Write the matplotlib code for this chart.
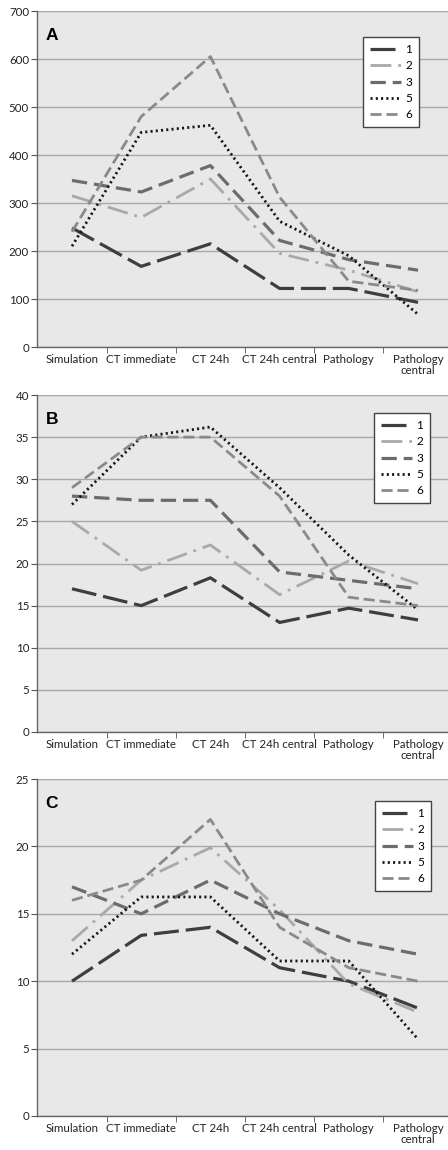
import matplotlib
matplotlib.use("Agg")
import matplotlib.pyplot as plt
from matplotlib.ticker import FixedLocator

plt.rcParams["lines.scale_dashes"] = False
plt.rcParams["font.family"] = ["Lato", "DejaVu Sans"]

CATEGORIES = ["Simulation", "CT immediate", "CT 24h", "CT 24h central",
              "Pathology", "Pathology\ncentral"]
SERIES_NAMES = ["1", "2", "3", "5", "6"]

# panel A
A_S1 = [248, 168, 215, 122, 122, 93]
A_S2 = [315, 270, 350, 195, 160, 115]
A_S3 = [347, 323, 378, 222, 182, 160]
A_S5 = [210, 447, 462, 262, 190, 68]
A_S6 = [240, 480, 605, 312, 137, 118]

# panel B
B_S1 = [17.0, 15.0, 18.3, 13.0, 14.7, 13.3]
B_S2 = [25.0, 19.2, 22.2, 16.3, 20.3, 17.6]
B_S3 = [28.0, 27.5, 27.5, 19.0, 18.0, 17.0]
B_S5 = [27.0, 35.0, 36.2, 29.0, 21.0, 14.5]
B_S6 = [29.0, 35.0, 35.0, 28.0, 16.0, 15.0]

# panel C
C_S1 = [10.0, 13.4, 14.0, 11.0, 10.0, 8.0]
C_S2 = [13.0, 17.5, 19.9, 15.3, 9.8, 7.7]
C_S3 = [17.0, 15.0, 17.5, 15.0, 13.0, 12.0]
C_S5 = [12.0, 16.25, 16.25, 11.5, 11.5, 5.7]
C_S6 = [16.0, 17.5, 22.0, 14.0, 11.0, 10.0]

STYLES = [
    dict(color="#3e3e3e", lw=2.3, dashes=(18, 5)),
    dict(color="#a9a9a9", lw=2.0, dashes=(15, 5, 2, 5)),
    dict(color="#6c6c6c", lw=2.3, dashes=(11, 5)),
    dict(color="#161616", lw=2.0, dashes=(1.5, 2.3)),
    dict(color="#8a8a8a", lw=2.0, dashes=(8, 3.5)),
]

PANELS = [
    ("A", [A_S1, A_S2, A_S3, A_S5, A_S6], 700, 100, 347, 11, 37, 363),
    ("B", [B_S1, B_S2, B_S3, B_S5, B_S6], 40, 5, 732, 395, 413, 374),
    ("C", [C_S1, C_S2, C_S3, C_S5, C_S6], 25, 5, 1116, 779, 801, 375),
]

W, H = 448, 1150
fig = plt.figure(figsize=(W / 100, H / 100), dpi=100)

x = list(range(len(CATEGORIES)))
for label, series, ymax, step, y_bot, y_top, leg_top, leg_left in PANELS:
    ax = fig.add_axes([37.4 / W, 1 - y_bot / H, 415.2 / W, (y_bot - y_top) / H])
    ax.set_facecolor("#e8e8e8")
    for vals, name, st in zip(series, SERIES_NAMES, STYLES):
        ax.plot(x, vals, color=st["color"], lw=st["lw"], dashes=st["dashes"],
                label=name, dash_capstyle="butt")
    ax.set_xlim(-0.5, 5.5)
    ax.set_ylim(0, ymax)
    ax.set_yticks(range(0, ymax + 1, step))
    ax.yaxis.grid(True, color="#a8a8a8", lw=1.0)
    ax.set_axisbelow(True)
    ax.set_xticks(x)
    ax.set_xticklabels(CATEGORIES, fontsize=8.3, color="#222222", linespacing=1.0)
    ax.xaxis.set_minor_locator(FixedLocator([0.5, 1.5, 2.5, 3.5, 4.5]))
    ax.tick_params(axis="x", which="major", length=0, pad=5)
    ax.tick_params(axis="x", which="minor", length=4, color="#555555", direction="out")
    ax.tick_params(axis="y", length=4, color="#555555", labelsize=8.3,
                   labelcolor="#222222", pad=2)
    for side in ("top", "right"):
        ax.spines[side].set_visible(False)
    for side in ("left", "bottom"):
        ax.spines[side].set_color("#666666")
        ax.spines[side].set_linewidth(1.0)
    ax.text(0.02, 0.95, label, transform=ax.transAxes, fontsize=12.5,
            fontweight="bold", family="Liberation Sans", va="top", ha="left")
    leg = ax.legend(loc="upper left", bbox_to_anchor=(leg_left / W, 1 - leg_top / H),
                    bbox_transform=fig.transFigure, fontsize=8.5, frameon=True,
                    fancybox=False, handlelength=2.6, handletextpad=0.4,
                    labelspacing=0.45, borderpad=0.6, borderaxespad=0)
    leg.get_frame().set_edgecolor("#444444")
    leg.get_frame().set_linewidth(1.0)
    leg.get_frame().set_facecolor("white")
    leg.get_frame().set_alpha(1.0)

fig.savefig("out.png", dpi=100)
